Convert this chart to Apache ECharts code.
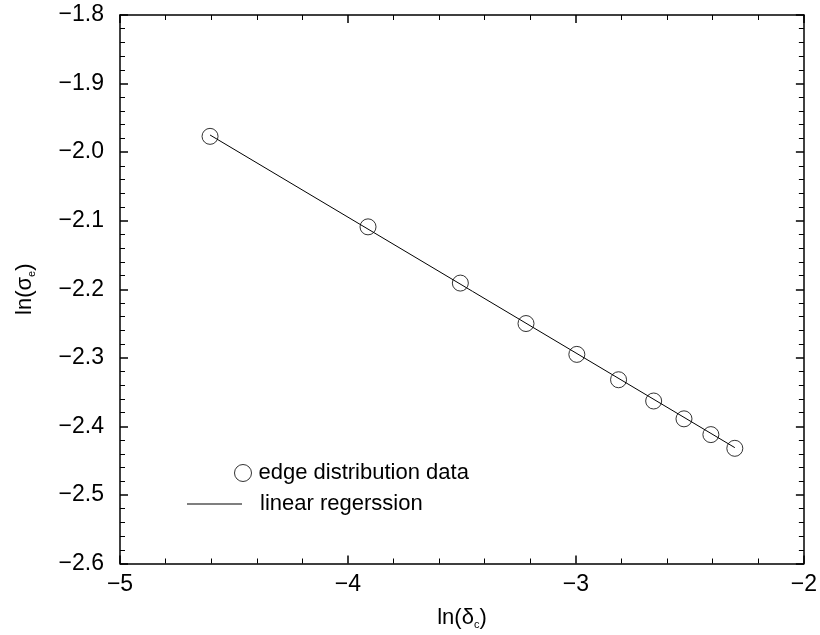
<!DOCTYPE html>
<html>
<head>
<meta charset="utf-8">
<script src="https://cdn.jsdelivr.net/npm/echarts@6/dist/echarts.min.js"></script>
<style>html,body{margin:0;padding:0;background:#fff}#c{width:820px;height:635px}</style>
</head>
<body>
<div id="c"></div>
<script>
const lnDelta = [-4.605, -3.912, -3.507, -3.219, -2.996, -2.813, -2.659, -2.526, -2.408, -2.303];
const lnSigma = [-1.977, -2.109, -2.191, -2.250, -2.295, -2.332, -2.363, -2.389, -2.412, -2.432];
const regX = [-4.605, -2.303];
const regY = [-1.975, -2.431];
const xTicks = [-5, -4, -3, -2];
const yTicks = [-2.6, -2.5, -2.4, -2.3, -2.2, -2.1, -2.0, -1.9, -1.8];
const seriesNames = ['edge distribution data', 'linear regerssion'];

const FONT = "'Liberation Sans', Arial, sans-serif";
const fmt = d => v => (v < 0 ? '\u2212' : '') + Math.abs(v).toFixed(d);
const chart = echarts.init(document.getElementById('c'), null, {renderer: 'canvas'});

const commonTick = {show: true, inside: true, length: 8, lineStyle: {color: '#000', width: 1.5}};
const commonMinor = {show: true, splitNumber: 5, length: 5, lineStyle: {color: '#000', width: 1}};
const axisLine = {show: true, onZero: false, lineStyle: {color: '#000', width: 1.5}};
const nameRich = {
  a: {fontSize: 22, color: '#000', fontFamily: FONT, lineHeight: 26},
  s: {fontSize: 11, color: '#000', fontFamily: FONT, lineHeight: 26, padding: [14, 0, 0, 0]}
};

chart.setOption({
  animation: false,
  backgroundColor: '#fff',
  textStyle: {fontFamily: FONT},
  grid: {left: 120, right: 16, top: 15, bottom: 70, containLabel: false},
  xAxis: [{
    type: 'value', min: xTicks[0], max: xTicks[xTicks.length - 1], interval: 1,
    position: 'bottom', axisLine, axisTick: commonTick, minorTick: commonMinor,
    splitLine: {show: false},
    axisLabel: {formatter: fmt(0), color: '#000', fontSize: 23, margin: 10, fontFamily: FONT},
    name: '{a|ln(\u03b4}{s|c}{a|)}', nameLocation: 'middle', nameGap: 41,
    nameTextStyle: {rich: nameRich}
  }, {
    type: 'value', min: xTicks[0], max: xTicks[xTicks.length - 1], interval: 1,
    position: 'top', axisLine, axisTick: commonTick, minorTick: commonMinor,
    splitLine: {show: false}, axisLabel: {show: false}
  }],
  yAxis: [{
    type: 'value', min: yTicks[0], max: yTicks[yTicks.length - 1], interval: 0.1,
    position: 'left', axisLine, axisTick: commonTick, minorTick: commonMinor,
    splitLine: {show: false},
    axisLabel: {formatter: fmt(1), color: '#000', fontSize: 23, margin: 16, fontFamily: FONT},
    name: '{a|ln(\u03c3}{s|e}{a|)}', nameLocation: 'middle', nameGap: 82, nameRotate: 90,
    nameTextStyle: {rich: nameRich}
  }, {
    type: 'value', min: yTicks[0], max: yTicks[yTicks.length - 1], interval: 0.1,
    position: 'right', axisLine, axisTick: commonTick, minorTick: commonMinor,
    splitLine: {show: false}, axisLabel: {show: false}
  }],
  legend: [{
    data: [{name: seriesNames[0], icon: 'circle'}], left: 234, top: 462, itemWidth: 17, itemHeight: 17, itemGap: 0,
    padding: 0, itemStyle: {color: 'transparent', borderColor: '#000', borderWidth: 1},
    textStyle: {color: '#000', fontSize: 22, fontFamily: FONT, padding: [0, 0, 0, 2]}
  }, {
    data: [{name: seriesNames[1], icon: 'rect'}], left: 187, top: 493, itemWidth: 55, itemHeight: 1,
    padding: 0, itemStyle: {color: '#000', borderWidth: 0},
    textStyle: {color: '#000', fontSize: 22, fontFamily: FONT, padding: [0, 0, 0, 13]}
  }],
  series: [{
    name: seriesNames[0], type: 'scatter', xAxisIndex: 0, yAxisIndex: 0,
    symbol: 'circle', symbolSize: 16,
    itemStyle: {color: 'transparent', borderColor: '#000', borderWidth: 1},
    data: lnDelta.map((x, i) => [x, lnSigma[i]]), z: 2
  }, {
    name: seriesNames[1], type: 'line', xAxisIndex: 0, yAxisIndex: 0,
    symbol: 'none', showSymbol: false,
    lineStyle: {color: '#000', width: 1}, itemStyle: {color: '#000'},
    data: regX.map((x, i) => [x, regY[i]]), z: 3
  }]
});
</script>
</body>
</html>
